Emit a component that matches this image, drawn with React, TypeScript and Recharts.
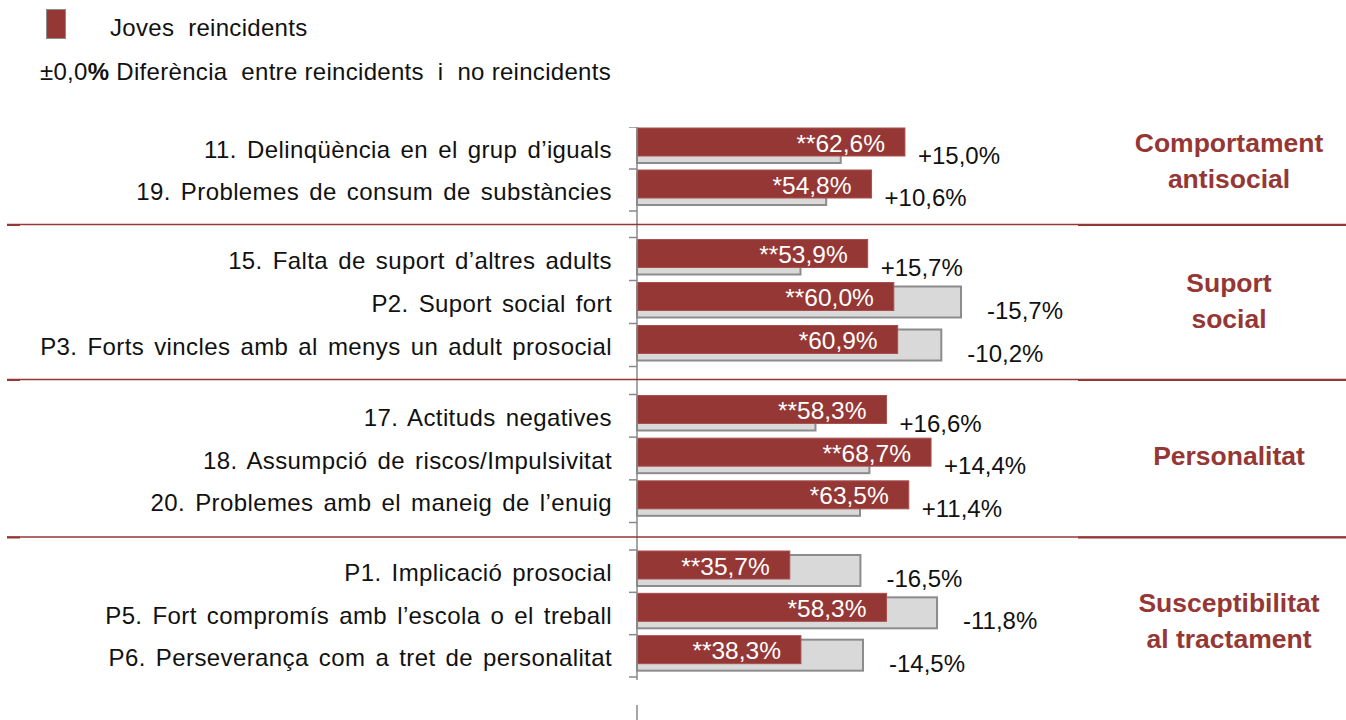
import React from 'react';
import { BarChart, Bar, XAxis, YAxis } from 'recharts';

const categories = [
  '11. Delinqüència en el grup d’iguals',
  '19. Problemes de consum de substàncies',
  '15. Falta de suport d’altres adults',
  'P2. Suport social fort',
  'P3. Forts vincles amb al menys un adult prosocial',
  '17. Actituds negatives',
  '18. Assumpció de riscos/Impulsivitat',
  '20. Problemes amb el maneig de l’enuig',
  'P1. Implicació prosocial',
  'P5. Fort compromís amb l’escola o el treball',
  'P6. Perseverança com a tret de personalitat',
];
const reincidents = [62.6, 54.8, 53.9, 60.0, 60.9, 58.3, 68.7, 63.5, 35.7, 58.3, 38.3];
const noReincidents = [47.6, 44.2, 38.2, 75.7, 71.1, 41.7, 54.3, 52.1, 52.2, 70.1, 52.8];
const differences = [15.0, 10.6, 15.7, -15.7, -10.2, 16.6, 14.4, 11.4, -16.5, -11.8, -14.5];
const significance = ['**', '*', '**', '**', '*', '**', '**', '*', '**', '*', '**'];
const groupTitles = [
  ['Comportament', 'antisocial'],
  ['Suport', 'social'],
  ['Personalitat'],
  ['Susceptibilitat', 'al tractament'],
];
const groupSizes = [2, 3, 3, 3];

const RED = '#953735';
const GRAY_FILL = '#d9d9d9';
const GRAY_STROKE = '#8c8c8c';
const FONT = '"Liberation Sans", Arial, sans-serif';
const AXIS_X = 637;
const PLOT_W = 428;
const SHIFT = -4;

const groupLayout = [
  { top: 127, bottom: 224.5, padTop: 0, padBottom: 13.5, titleY: 160.5 },
  { top: 224.5, bottom: 379.5, padTop: 12.5, padBottom: 13.5, titleY: 301 },
  { top: 379.5, bottom: 537, padTop: 14.5, padBottom: 15, titleY: 456 },
  { top: 537, bottom: 680, padTop: 13, padBottom: 3, titleY: 621 },
];
const separatorsY = [224.5, 379.5, 537];

const fmt = (v: number) => v.toFixed(1).replace('.', ',') + '%';
const fmtDiff = (v: number) => (v > 0 ? '+' : '') + fmt(v);

const CatTick = (props: any) => {
  const { payload, index, count, half } = props;
  const y = payload.coordinate;
  const h = typeof payload.offset === 'number' && payload.offset > 0 ? payload.offset : half;
  return (
    <g>
      <text
        x={AXIS_X - 25}
        y={y + 1.5}
        textAnchor="end"
        dominantBaseline="central"
        fontSize={24}
        fontFamily={FONT}
        fill="#111"
        style={{ letterSpacing: '0.4px', wordSpacing: '3px' }}
      >
        {payload.value}
      </text>
      <line x1={AXIS_X - 8} x2={AXIS_X} y1={y - h} y2={y - h} stroke="#898989" strokeWidth={1.5} />
      {index === count - 1 && (
        <line x1={AXIS_X - 8} x2={AXIS_X} y1={y + h} y2={y + h} stroke="#898989" strokeWidth={1.5} />
      )}
    </g>
  );
};

const GrayShape = (props: any) => {
  const { x, y, width, height, payload } = props;
  const top = y + SHIFT;
  return (
    <g>
      <rect x={x} y={top} width={width} height={height} fill={GRAY_FILL} stroke={GRAY_STROKE} strokeWidth={2} />
      {payload.diff < 0 && (
        <text x={x + width + 26} y={top + 23.5} dominantBaseline="central" fontSize={24} fontFamily={FONT} fill="#111">
          {fmtDiff(payload.diff)}
        </text>
      )}
    </g>
  );
};

const RedShape = (props: any) => {
  const { x, y, width, height, payload } = props;
  const top = y + SHIFT;
  return (
    <g>
      <rect x={x} y={top} width={width} height={height} fill={RED} stroke="#a8504e" strokeWidth={1} />
      <text x={x + width - 20} y={top + height / 2 + 1} textAnchor="end" dominantBaseline="central" fontSize={24.5} fontFamily={FONT} fill="#fff">
        {payload.sig + fmt(payload.reinc)}
      </text>
      {payload.diff > 0 && (
        <text x={x + width + 13} y={top + 27.5} dominantBaseline="central" fontSize={24} fontFamily={FONT} fill="#111">
          {fmtDiff(payload.diff)}
        </text>
      )}
    </g>
  );
};

const GroupChart = ({ g }: { g: number }) => {
  const start = groupSizes.slice(0, g).reduce((a, b) => a + b, 0);
  const data = categories.slice(start, start + groupSizes[g]).map((name, i) => ({
    name,
    reinc: reincidents[start + i],
    noReinc: noReincidents[start + i],
    diff: differences[start + i],
    sig: significance[start + i],
  }));
  const L = groupLayout[g];
  const h = L.bottom - L.top;
  const half = (h - L.padTop - L.padBottom) / data.length / 2;
  return (
    <div style={{ position: 'absolute', left: 0, top: L.top }}>
      <BarChart
        width={1346}
        height={h}
        data={data}
        layout="vertical"
        margin={{ top: 0, right: 1346 - AXIS_X - PLOT_W, bottom: 0, left: 0 }}
        barGap={-35}
        barCategoryGap={0}
      >
        <XAxis type="number" domain={[0, 100]} hide />
        <YAxis
          type="category"
          dataKey="name"
          width={AXIS_X}
          axisLine={{ stroke: '#898989', strokeWidth: 1.5 }}
          tickLine={false}
          interval={0}
          padding={{ top: L.padTop, bottom: L.padBottom }}
          tick={<CatTick count={data.length} half={half} />}
        />
        <Bar dataKey="noReinc" barSize={31} shape={<GrayShape />} isAnimationActive={false} />
        <Bar dataKey="reinc" barSize={28} shape={<RedShape />} isAnimationActive={false} />
      </BarChart>
    </div>
  );
};

export default function App() {
  return (
    <div style={{ position: 'absolute', left: 0, top: 0, width: 1346, height: 720, background: '#fff', fontFamily: FONT, overflow: 'hidden' }}>
      {/* legend */}
      <div style={{ position: 'absolute', left: 46, top: 9, width: 18, height: 28, background: RED, border: '1.5px solid #8c8c8c' }} />
      <div style={{ position: 'absolute', left: 110, top: 14, fontSize: 24, lineHeight: '28px', color: '#111', whiteSpace: 'pre', letterSpacing: '0.3px' }}>
        Joves  reincidents
      </div>
      <div style={{ position: 'absolute', left: 40, top: 58, fontSize: 24, lineHeight: '28px', color: '#111', whiteSpace: 'pre', letterSpacing: '0.3px' }}>
        ±0,0<b>%</b> Diferència  entre reincidents  i  no reincidents
      </div>

      {groupSizes.map((_, g) => (
        <GroupChart key={g} g={g} />
      ))}

      <svg style={{ position: 'absolute', left: 0, top: 0 }} width={1346} height={720}>
        {separatorsY.map((y) => (
          <g key={y}>
            <line x1={7} x2={1346} y1={y} y2={y} stroke={RED} strokeWidth={1.3} />
            <line x1={7} x2={20} y1={y + 0.5} y2={y + 0.5} stroke={RED} strokeWidth={2} />
            <line x1={1078} x2={1346} y1={y + 0.5} y2={y + 0.5} stroke={RED} strokeWidth={2} />
          </g>
        ))}
        <line x1={AXIS_X} x2={AXIS_X} y1={705} y2={720} stroke="#898989" strokeWidth={1.5} />
      </svg>

      {groupTitles.map((lines, g) => (
        <div
          key={g}
          style={{
            position: 'absolute',
            left: 1100,
            width: 258,
            top: groupLayout[g].titleY - (lines.length * 36) / 2,
            textAlign: 'center',
            fontSize: 26.5,
            fontWeight: 'bold',
            lineHeight: '36px',
            color: RED,
          }}
        >
          {lines.map((t) => (
            <div key={t}>{t}</div>
          ))}
        </div>
      ))}
    </div>
  );
}
